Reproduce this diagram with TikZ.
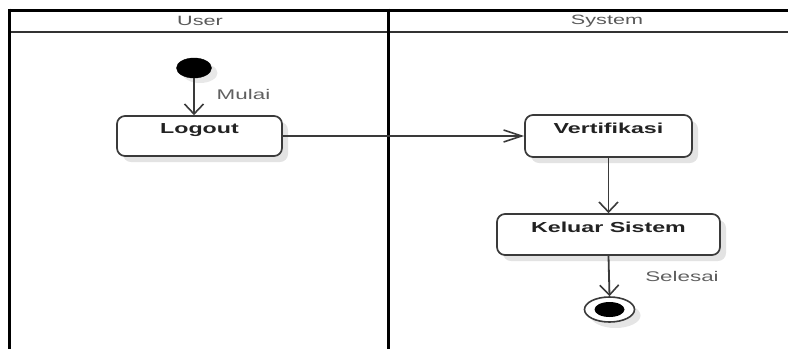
\documentclass[tikz,border=0pt]{standalone}
\usepackage{fontspec}
\setmainfont{Liberation Sans}
\usetikzlibrary{arrows.meta,shapes.geometric,shadows}
\definecolor{edge}{HTML}{3A3A3A}
\definecolor{txt}{HTML}{222222}
\definecolor{lbl}{HTML}{606060}
\newcommand{\wide}[1]{\scalebox{1.6}[1]{#1}}
\tikzset{
  frame/.style={line width=3pt,black},
  hdrline/.style={line width=2pt,black!80},
  hdr/.style={font=\fontsize{13.5}{13.5}\selectfont,text=black!65,inner sep=0pt},
  act/.style={draw=edge,line width=1.7pt,rounded corners=8pt,fill=white,
    inner xsep=0pt,inner ysep=0pt,text=txt,
    font=\fontsize{14.5}{14.5}\selectfont\bfseries,
    drop shadow={shadow xshift=6pt,shadow yshift=-6pt,fill=black!11,opacity=1}},
  flow/.style={draw=edge,line width=1.8pt},
  vtip/.style={-{Straight Barb[length=10pt,width=19pt,line width=1.6pt]}},
  htip/.style={-{Straight Barb[length=18pt,width=12pt,line width=1.6pt]}},
  lab/.style={text=lbl,font=\fontsize{14}{14}\selectfont,inner sep=0pt}
}
\begin{document}
\begin{tikzpicture}[x=1pt,y=-1pt]
\useasboundingbox (0,0) rectangle (788,349);
% swimlane frame
\draw[hdrline] (9,31.5) -- (788,31.5);
\draw[frame] (8,10) -- (788,10);
\draw[frame] (9.5,8.5) -- (9.5,349);
\draw[frame] (388.5,8.5) -- (388.5,349);
\node[hdr] (huser) at (200,21) {\wide{User}};
\node[hdr] (hsys) at (607,21) {\wide{System}};
% start
\node[ellipse,fill=black,draw=black,minimum width=35pt,minimum height=20pt,inner sep=0pt,
  drop shadow={shadow xshift=6pt,shadow yshift=-5pt,fill=black!9,opacity=1}] (start) at (194,68) {};
% activities
\node[act,minimum width=165pt,text height=17pt,text depth=23pt] (logout) at (199.5,136) {\wide{Logout}};
\node[act,minimum width=167pt,text height=18pt,text depth=24pt] (verif) at (608.5,136) {\wide{Vertifikasi}};
\node[act,minimum width=223pt,text height=18pt,text depth=23pt] (keluar) at (608.5,234.5) {\wide{Keluar Sistem}};
% end
\node[ellipse,draw=edge,line width=1.6pt,fill=white,minimum width=50pt,minimum height=25pt,inner sep=0pt,
  drop shadow={shadow xshift=6pt,shadow yshift=-6pt,fill=black!10,opacity=1}] (end) at (609.5,309.5) {};
\node[ellipse,fill=black,minimum width=30pt,minimum height=15pt,inner sep=0pt] (endin) at (end.center) {};
% labels
\node[lab] (mulai) at (243.5,94) {\wide{Mulai}};
\node[lab] (selesai) at (682,276.5) {\wide{Selesai}};
% connectors
\draw[flow,vtip] (start.south) -- (start.south |- logout.north);
\draw[flow,htip] (logout.east) -- (verif.west);
\draw[flow,vtip] (verif.south) -- (keluar.north);
\draw[flow,vtip] (keluar.south) -- (end.north);
\end{tikzpicture}
\end{document}
